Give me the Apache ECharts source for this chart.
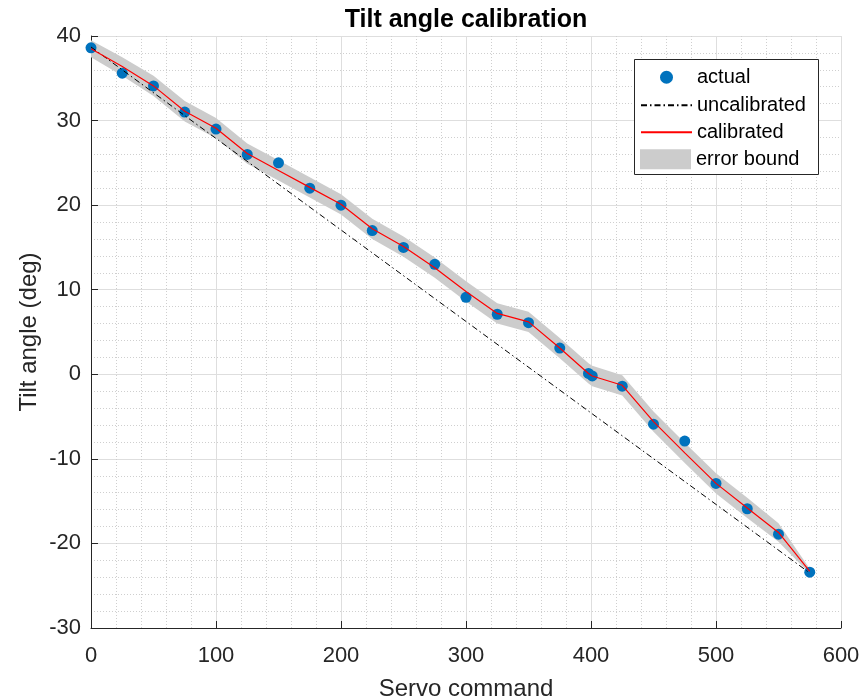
<!DOCTYPE html>
<html>
<head>
  <title>Tilt angle calibration</title>
  <style>
    body {
      margin: 0;
      background-color: #ffffff;
    }
    #chart {
      width: 862px;
      height: 700px;
    }
  </style>
</head>
<body>
  <div id="chart"></div>

  <script src="https://cdn.jsdelivr.net/npm/echarts@6/dist/echarts.min.js"></script>
  <script>
    // servo commands where the tilt angle was measured
    var servoCmd = [0, 25, 50, 75, 100, 125, 150, 175, 200, 225, 250, 275, 300,
      325, 350, 375, 398, 401, 425, 450, 475, 500, 525, 550, 575];
    // measured tilt angle (deg)
    var actualDeg = [38.6, 35.6, 34.1, 31.0, 29.0, 26.0, 25.0, 22.0, 20.0, 17.0, 15.0, 13.0, 9.1,
      7.1, 6.1, 3.1, 0.1, -0.2, -1.4, -5.9, -7.9, -12.9, -15.9, -18.9, -23.4];
    // calibrated model (deg)
    var calibratedDeg = [38.5, 36.4, 34.1, 31.1, 29.1, 26.1, 24.1, 22.1, 20.1, 17.2, 15.1, 12.6, 9.8,
      7.2, 6.2, 3.1, 0.1, -0.2, -1.3, -5.6, -9.3, -12.9, -15.8, -18.7, -23.3];
    // half width of the error bound around the calibrated curve (deg)
    var errBound = [1.0, 1.1, 1.2, 1.2, 1.2, 1.2, 1.2, 1.2, 1.2, 1.2, 1.2, 1.2, 1.2,
      1.2, 1.2, 1.2, 1.2, 1.2, 1.2, 1.2, 1.2, 1.2, 1.2, 1.1, 0.3];
    // uncalibrated (linear) mapping, end points
    var uncalCmd = [0, 575];
    var uncalDeg = [38.7, -23.5];

    var xTicks = { min: 0, max: 600, step: 100 };
    var yTicks = { min: -30, max: 40, step: 10 };

    var legendNames = ['actual', 'uncalibrated', 'calibrated', 'error bound'];

    var textColor = '#262626';
    var fontName = 'Liberation Sans, Arial, sans-serif';

    function pairs(xs, ys) {
      return xs.map(function (x, i) { return [x, ys[i]]; });
    }

    // polygon: upper edge left->right, then lower edge right->left
    function renderBand(params, api) {
      if (params.dataIndex !== 0) return;
      var pts = [];
      for (var i = 0; i < servoCmd.length; i++) {
        pts.push(api.coord([servoCmd[i], calibratedDeg[i] + errBound[i]]));
      }
      for (var j = servoCmd.length - 1; j >= 0; j--) {
        pts.push(api.coord([servoCmd[j], calibratedDeg[j] - errBound[j]]));
      }
      return {
        type: 'polygon',
        shape: { points: pts },
        style: { fill: '#cccccc' }
      };
    }

    // one legend per entry so each row sits where it should
    var legendRowY = [76, 104, 131, 158];
    var legends = legendNames.map(function (name, i) {
      var isBand = name === 'error bound';
      var item = { name: name };
      if (isBand) {
        item.icon = 'rect';
        item.itemStyle = { color: '#cccccc' };
      } else if (name !== 'actual') {
        // hide the marker that line icons draw in the middle
        item.itemStyle = { opacity: 0 };
      }
      return {
        orient: 'vertical',
        // the scatter icon is drawn narrow, so push it to the middle of the icon column
        left: name === 'actual' ? 660 : 640,
        top: legendRowY[i] - 16,
        padding: 0,
        itemWidth: 51,
        itemHeight: isBand ? 20 : 13,
        textStyle: { fontSize: 20, lineHeight: 20, color: '#000000', fontFamily: fontName },
        data: [item]
      };
    });

    var axisCommon = {
      type: 'value',
      nameLocation: 'middle',
      nameMoveOverlap: false,
      nameTextStyle: { fontSize: 24, color: textColor, fontFamily: fontName },
      axisLine: { show: true, onZero: false, lineStyle: { color: textColor, width: 1 } },
      axisTick: { show: true, inside: true, length: 7, lineStyle: { color: textColor } },
      axisLabel: { fontSize: 22, color: textColor, fontFamily: fontName },
      splitLine: { show: true, lineStyle: { color: '#dedede', width: 1 } },
      minorTick: { show: false, splitNumber: 5 },
      minorSplitLine: { show: true, lineStyle: { color: '#cfcfcf', width: 1, type: [1, 2] } }
    };

    var option = {
      animation: false,
      backgroundColor: '#ffffff',
      title: {
        text: 'Tilt angle calibration',
        left: 466,
        top: -1,
        padding: 0,
        textAlign: 'center',
        textStyle: { fontSize: 25, fontWeight: 'bold', color: '#000000', fontFamily: fontName }
      },
      grid: { left: 91, right: 21, top: 36, bottom: 72, containLabel: false, outerBoundsMode: 'none' },
      xAxis: Object.assign({}, axisCommon, {
        name: 'Servo command',
        nameGap: 41,
        min: xTicks.min,
        max: xTicks.max,
        interval: xTicks.step,
        axisLabel: Object.assign({}, axisCommon.axisLabel, { margin: 9 })
      }),
      yAxis: Object.assign({}, axisCommon, {
        name: 'Tilt angle (deg)',
        nameGap: 41,
        min: yTicks.min,
        max: yTicks.max,
        interval: yTicks.step,
        axisLabel: Object.assign({}, axisCommon.axisLabel, { margin: 10 })
      }),
      legend: legends,
      graphic: [{
        type: 'rect',
        z: 3,
        shape: { x: 634.5, y: 59.5, width: 184, height: 115 },
        style: { fill: '#ffffff', stroke: textColor, lineWidth: 1 }
      }],
      series: [{
        name: 'error bound',
        type: 'custom',
        color: '#cccccc',
        renderItem: renderBand,
        data: [0],
        silent: true
      }, {
        name: 'uncalibrated',
        type: 'line',
        symbol: 'none',
        color: '#000000',
        lineStyle: { color: '#000000', width: 1, type: [6, 3, 1.5, 3] },
        data: pairs(uncalCmd, uncalDeg)
      }, {
        name: 'calibrated',
        type: 'line',
        symbol: 'none',
        color: '#ff0000',
        lineStyle: { color: '#ff0000', width: 1.2 },
        data: pairs(servoCmd, calibratedDeg)
      }, {
        name: 'actual',
        type: 'scatter',
        symbol: 'circle',
        symbolSize: 11,
        color: '#0072bd',
        itemStyle: { color: '#0072bd', opacity: 1 },
        data: pairs(servoCmd, actualDeg)
      }]
    };

    var chart = echarts.init(document.getElementById('chart'));
    chart.setOption(option);
  </script>
</body>
</html>
